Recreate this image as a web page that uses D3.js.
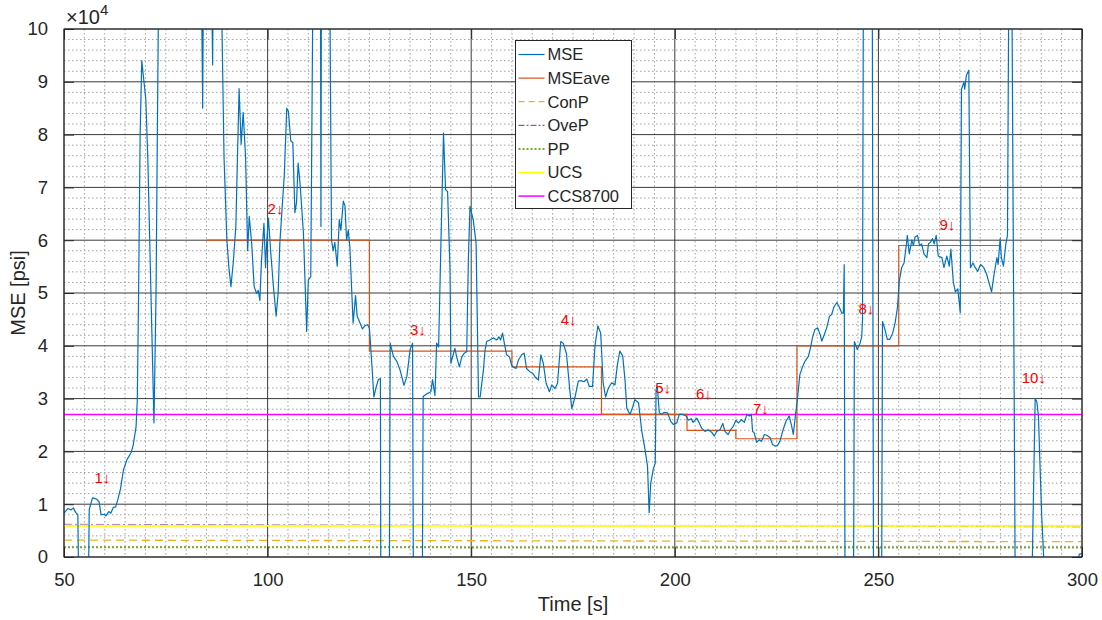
<!DOCTYPE html>
<html>
<head>
<meta charset="utf-8">
<script src="https://cdn.jsdelivr.net/npm/d3@7"></script>
<style>
  body { margin: 0; background: #fff; }
  text { font-family: "Liberation Sans", Arial, Helvetica, sans-serif; fill: #262626; }
</style>
</head>
<body>
<div id="chart"></div>
<script>
// MSE trace [s, psi] (values off the axes are clipped)
var mseT = [50.0,51.0,51.7,52.3,52.9,53.4,53.6,56.0,56.2,57.0,57.9,58.6,59.1,59.9,60.3,61.0,61.5,62.1,62.7,63.3,63.9,64.6,65.5,66.5,67.0,67.7,68.0,68.3,68.7,69.1,69.6,70.1,70.6,71.2,72.1,72.6,73.2,
  83.8,84.06,84.2,86.3,86.5,86.6,88.7,89.3,90.0,90.5,91.0,91.6,92.2,93.0,93.5,94.0,94.6,95.1,95.5,96.1,96.7,97.3,97.7,98.1,98.5,99.1,99.5,99.8,100.2,100.8,101.4,102.1,102.6,103.0,103.6,104.1,104.7,105.1,105.7,106.2,106.7,107.1,107.5,108.0,108.8,109.6,110.0,110.6,111.1,
  113.0,113.1,113.2,115.3,115.7,116.1,116.5,117.1,117.6,118.0,118.6,119.0,119.4,119.8,120.2,121.0,121.6,122.0,122.7,123.3,123.9,124.5,125.0,125.6,126.1,126.6,127.2,127.7,127.8,
  129.9,130.1,130.9,131.7,132.5,133.5,134.2,135.0,135.6,135.8,138.0,138.2,139.1,140.1,140.5,141.1,141.5,142.0,142.4,143.2,143.7,144.2,144.8,145.0,146.0,146.4,147.1,147.7,148.3,148.9,149.3,149.7,150.5,151.2,151.8,152.2,153.0,153.4,153.8,154.6,155.4,156.3,156.8,157.2,157.7,158.3,158.7,159.4,159.9,
  160.3,161.0,161.6,162.4,163.0,163.6,164.4,165.1,165.7,166.5,167.1,167.7,168.4,169.2,169.8,170.6,171.2,172.0,172.6,173.4,174.2,174.7,175.5,176.3,177.0,177.7,178.4,179.0,179.8,180.4,181.1,181.8,182.4,183.0,183.7,184.5,185.3,185.9,186.5,187.2,187.8,188.2,189.0,189.7,190.2,191.1,191.9,192.7,193.3,193.7,194.1,194.7,195.2,195.4,195.7,196.2,196.8,197.3,198.2,199.0,199.6,
  200.5,201.1,201.9,202.8,203.3,204.0,204.5,205.4,206.0,206.6,207.4,208.2,209.1,209.7,210.3,211.1,211.8,212.3,213.1,213.7,214.4,215.0,215.6,216.4,217.1,217.7,218.3,218.8,219.1,219.5,220.1,220.7,221.3,222.0,222.7,223.4,224.0,224.6,225.2,225.8,226.6,227.3,228.1,228.7,229.1,229.7,
  230.1,230.7,231.4,232.0,232.8,233.4,233.8,234.4,235.1,235.7,236.1,236.7,237.3,238.0,238.5,239.1,239.8,240.3,241.0,241.4,241.6,241.8,243.9,244.1,244.8,245.5,245.9,246.1,246.3,248.5,248.8,250.8,
  251.0,251.6,252.2,252.8,253.5,254.1,254.7,255.1,255.7,256.3,256.8,257.1,257.6,258.2,258.6,259.0,259.6,260.1,260.6,261.2,261.9,262.3,262.8,263.3,263.7,264.2,264.7,265.6,266.1,266.8,267.4,267.8,268.4,268.9,269.5,270.1,270.4,271.0,271.2,271.6,272.2,272.6,273.2,273.8,274.4,275.1,275.9,276.6,277.1,277.8,278.4,279.1,279.4,279.9,
  280.2,280.7,281.3,281.7,282.0,282.8,283.6,287.7,288.5,288.9,289.3,289.7,290.1,290.9,298.7,299.3,300.0];
var mseV = [8.3,9.2,8.9,9.3,8.4,8.0,-5,-5,9.0,11.2,11.0,10.5,8.0,8.1,7.8,8.6,8.3,9.4,9.5,11.1,13.0,16.5,18.5,19.8,21.2,24.7,29.7,48.7,80,94,90.3,86.6,75,55,25.4,50,105,
  105,85.0,105,105,93.2,105,105,75.6,60,54.8,51.2,56.1,62.6,88.7,78.2,84.2,75.6,58.0,64.5,59.3,51.2,49.9,50.5,48.6,56.1,63.2,54.8,60,64.2,57.4,51.5,45.6,50.2,59.3,66.5,72.3,85.0,84.4,78.8,78.5,65.2,67.1,74.6,70.4,61.3,42.7,52.5,53.1,105,
  105,62.6,105,105,60,58,59.6,55.1,63.9,61.9,67.4,66.5,60,61.9,58.7,44.3,49.5,45.6,44.3,43.2,43.8,44.0,43.4,36.5,30.3,32.0,33.6,33.8,-5,
  -5,40.5,38.0,37.1,35.5,32.5,34.2,39.3,40.5,-5,-5,30.4,30.9,31.3,33.6,30.6,40.5,39.8,53.8,80.3,69.6,69.2,54.4,36.7,39.5,38.0,36.0,37.9,38.6,38.9,56.3,66.4,63.9,59.4,30.3,30.3,35.4,39.2,40.8,41.1,41.5,41.1,41.7,41.1,42.4,39.8,38.3,37.9,36.4,
  36.0,35.7,37.3,38.3,38.6,35.7,35.1,34.8,34.1,33.5,38.3,36.7,32.9,31.3,32.6,31.9,32.9,40.8,40.5,38.5,31.7,28.1,30.3,33.3,33.4,33.2,33.7,32.3,32.3,40.0,43.8,42.4,33,30.3,32.0,33.0,32.6,36.4,39.0,38.1,33.3,28.2,27.0,28.5,29.8,29.2,23.8,20.3,17.2,8.4,14.0,16.6,17.8,31.7,32.3,27.3,27.0,27.4,27.3,25.7,25.1,
  25.4,27.0,27.0,26.7,25.9,26.2,25.5,26.3,25.4,24.4,23.8,24.1,23.6,22.9,23.8,24.1,25.3,23.8,23.2,24.1,24.8,25.9,25.4,26.0,25.5,27.0,26.7,27.0,23.8,23.5,21.7,22.2,21.9,23.2,23.0,22.6,21.3,21.0,21.1,21.9,24.1,25.7,26.7,24.8,23.2,27.3,
  29.8,34.5,36.1,37.1,38.0,39.9,41.5,43.1,43.4,42.1,40.9,42.1,43.4,45.6,45.9,47.4,48.2,47.5,46.2,46.2,55.4,-5,-5,40.8,39.3,40.5,41.7,45,105,105,-5,-5,
  44.6,43.1,41.2,41.2,42.4,44.3,47.4,52.1,54.8,55.7,58.7,60.9,57.4,60.0,59.0,60.6,60.9,59.0,59.3,57.4,56.7,59.3,59.6,60.3,59.3,60.9,57.0,56.7,54.8,57.0,55.1,58.3,52.1,50.2,50.8,46.3,88.6,89.9,88.6,91.2,92.2,54.8,55.7,54.8,54.1,55.4,54.8,53.5,52.1,50.2,53.5,56.7,55.4,60.3,
  56.7,55.1,59.3,60.9,105,105,-5,-5,30.0,29.4,26.8,17.1,7.9,-5,-5,0.5,0.7];

// MSEave steps [start s, end s, psi]
var aveStart = [85, 125, 160, 182, 203, 215, 230, 255];
var aveEnd   = [125, 160, 182, 203, 215, 230, 255, 280];
var aveVal   = [60000, 39000, 36000, 27000, 24000, 22400, 40000, 59000];

// reference levels at t=50 and t=300
var refT    = [50, 300];
var conP    = [3200, 2900];
var oveP    = [6200, 5700];
var pp      = [1850, 1780];
var ucs     = [5900, 5900];
var ccs8700 = [27000, 27000];

// numbered markers
var markNum = ["1","2","3","4","5","6","7","8","9","10"];
var markT   = [57.5, 100, 135, 172, 195.2, 205.2, 219.2, 245.1, 265, 285.2];
var markV   = [15000, 66000, 43000, 45000, 32000, 31000, 28000, 47000, 63000, 34000];

var xTicks = [50, 100, 150, 200, 250, 300];
var yTicks = [0, 10000, 20000, 30000, 40000, 50000, 60000, 70000, 80000, 90000, 100000];

var legendNames = ["MSE", "MSEave", "ConP", "OveP", "PP", "UCS", "CCS8700"];

//Dimensions and Margins
var margin = { top: 29, right: 20, bottom: 63, left: 64 },
    width = 1102 - margin.left - margin.right,
    height = 620 - margin.top - margin.bottom;

var svg = d3.select("#chart")
    .append("svg")
    .attr("width", 1102)
    .attr("height", 620)
    .append("g")
    .attr("transform", "translate(" + margin.left + "," + margin.top + ")");

var x = d3.scaleLinear().domain([50, 300]).range([0, width]);
var y = d3.scaleLinear().domain([0, 100000]).range([height, 0]);

svg.append("clipPath").attr("id", "clip")
    .append("rect").attr("width", width).attr("height", height);

// minor grid
var xMinor = d3.range(55, 300, 5).filter(function (d) { return d % 50 !== 0; });
var yMinor = d3.range(2000, 100000, 2000).filter(function (d) { return d % 10000 !== 0; });
svg.append("g").selectAll("line").data(xMinor).enter().append("line")
    .attr("x1", function (d) { return x(d); }).attr("x2", function (d) { return x(d); })
    .attr("y1", 0).attr("y2", height)
    .attr("stroke", "#a0a0a0").attr("stroke-dasharray", "1.5,2.5");
svg.append("g").selectAll("line").data(yMinor).enter().append("line")
    .attr("y1", function (d) { return y(d); }).attr("y2", function (d) { return y(d); })
    .attr("x1", 0).attr("x2", width)
    .attr("stroke", "#a0a0a0").attr("stroke-dasharray", "1.5,2.5");

// major grid
svg.append("g").selectAll("line").data(xTicks).enter().append("line")
    .attr("x1", function (d) { return x(d); }).attr("x2", function (d) { return x(d); })
    .attr("y1", 0).attr("y2", height)
    .attr("stroke", "#262626").attr("stroke-opacity", 0.9);
svg.append("g").selectAll("line").data(yTicks).enter().append("line")
    .attr("y1", function (d) { return y(d); }).attr("y2", function (d) { return y(d); })
    .attr("x1", 0).attr("x2", width)
    .attr("stroke", "#262626").attr("stroke-opacity", 0.9);

var plot = svg.append("g").attr("clip-path", "url(#clip)");

var refLine = d3.line()
    .x(function (d, i) { return x(refT[i]); })
    .y(function (d) { return y(d); });

// reference levels
plot.append("path").attr("d", refLine(pp)).attr("fill", "none")
    .attr("stroke", "#77AC30").attr("stroke-width", 2).attr("stroke-dasharray", "2,2");
plot.append("path").attr("d", refLine(conP)).attr("fill", "none")
    .attr("stroke", "#EDB120").attr("stroke-width", 1.3).attr("stroke-dasharray", "8,5");
plot.append("path").attr("d", refLine(oveP)).attr("fill", "none")
    .attr("stroke", "#7E2F8E").attr("stroke-width", 1).attr("stroke-opacity", 0.6)
    .attr("stroke-dasharray", "8,3,2,3");
plot.append("path").attr("d", refLine(ucs)).attr("fill", "none")
    .attr("stroke", "#FFFF00").attr("stroke-width", 1.6);
plot.append("path").attr("d", refLine(ccs8700)).attr("fill", "none")
    .attr("stroke", "#FF00FF").attr("stroke-width", 1.5);

// MSEave steps
var aveData = [];
aveStart.forEach(function (s, i) {
    aveData.push([s, aveVal[i]]);
    aveData.push([aveEnd[i], aveVal[i]]);
});
plot.append("path")
    .attr("d", d3.line().x(function (d) { return x(d[0]); }).y(function (d) { return y(d[1]); })(aveData))
    .attr("fill", "none").attr("stroke", "#D95319").attr("stroke-width", 1.2);

// MSE
plot.append("path")
    .attr("d", d3.line()
        .x(function (d, i) { return x(mseT[i]); })
        .y(function (d) { return y(d * 1000); })(mseV))
    .attr("fill", "none").attr("stroke", "#0072BD").attr("stroke-width", 1.2)
    .attr("stroke-linejoin", "round");

// markers
svg.append("g").selectAll("text").data(markNum).enter().append("text")
    .attr("x", function (d, i) { return x(markT[i]); })
    .attr("y", function (d, i) { return y(markV[i]); })
    .attr("dy", "0.35em")
    .style("font-size", "15px")
    .style("fill", "#FF0000")
    .text(function (d) { return d + "\u2193"; });

// axes box + ticks
svg.append("rect").attr("width", width).attr("height", height)
    .attr("fill", "none").attr("stroke", "#262626");

var xAxis = svg.append("g").attr("transform", "translate(0," + height + ")")
    .call(d3.axisBottom(x).tickValues(xTicks).tickSize(-10).tickPadding(16).tickFormat(d3.format("d")));
var xAxisTop = svg.append("g")
    .call(d3.axisTop(x).tickValues(xTicks).tickSize(-10).tickFormat(""));
var yAxis = svg.append("g")
    .call(d3.axisLeft(y).tickValues(yTicks).tickSize(-10).tickPadding(16)
        .tickFormat(function (d) { return d / 10000; }));
var yAxisRight = svg.append("g").attr("transform", "translate(" + width + ",0)")
    .call(d3.axisRight(y).tickValues(yTicks).tickSize(-10).tickFormat(""));

[xAxis, xAxisTop, yAxis, yAxisRight].forEach(function (a) {
    a.select(".domain").remove();
    a.selectAll("line").attr("stroke", "#262626");
    a.selectAll("text").style("font-size", "18.5px").style("fill", "#262626")
        .style("font-family", "'Liberation Sans', Arial, sans-serif");
});

// exponent (x10^4)
var expo = svg.append("text").attr("x", 2).attr("y", -5);
expo.append("tspan").style("font-size", "20px").text("\u00d710");
expo.append("tspan").attr("dy", -9).style("font-size", "15px").text("4");

// axis labels
svg.append("text")
    .attr("x", width / 2).attr("y", height + 54)
    .attr("text-anchor", "middle")
    .style("font-size", "20px")
    .text("Time [s]");
svg.append("text")
    .attr("transform", "rotate(-90)")
    .attr("x", -height / 2).attr("y", -39)
    .attr("text-anchor", "middle")
    .style("font-size", "20px")
    .text("MSE [psi]");

// legend
var lg = svg.append("g").attr("transform", "translate(" + (515.5 - margin.left) + "," + (40.5 - margin.top) + ")");
lg.append("rect").attr("width", 116).attr("height", 168)
    .attr("fill", "#fff").attr("stroke", "#262626");
var legStyle = [
    { c: "#0072BD", w: 1.2, d: null },
    { c: "#D95319", w: 1.2, d: null },
    { c: "#EDB120", w: 1.3, d: "6,4" },
    { c: "#7E2F8E", w: 1, d: "6,2,2,2" },
    { c: "#77AC30", w: 2, d: "2,2" },
    { c: "#FFFF00", w: 1.6, d: null },
    { c: "#FF00FF", w: 1.5, d: null }
];
var items = lg.selectAll("g.item").data(legendNames).enter().append("g")
    .attr("transform", function (d, i) { return "translate(0," + (14 + i * 23.6) + ")"; });
items.append("line").attr("x1", 3).attr("x2", 29).attr("y1", 0).attr("y2", 0)
    .attr("stroke", function (d, i) { return legStyle[i].c; })
    .attr("stroke-width", function (d, i) { return legStyle[i].w; })
    .attr("stroke-dasharray", function (d, i) { return legStyle[i].d; });
items.append("text").attr("x", 32).attr("dy", "0.36em")
    .style("font-size", "16.5px")
    .text(function (d) { return d; });
</script>
</body>
</html>
